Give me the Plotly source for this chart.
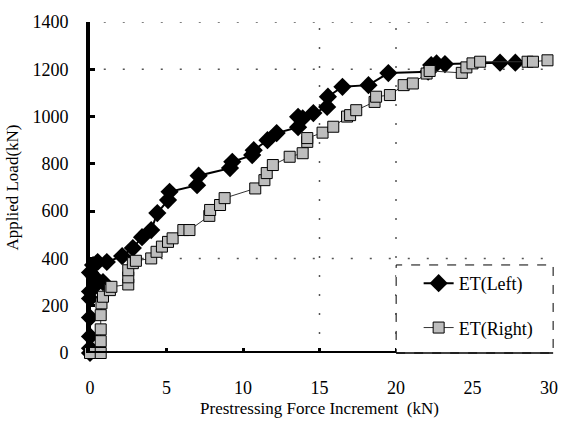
import plotly.graph_objects as go

# ET(Left): prestressing force increment (kN) vs applied load (kN)
left_x = [0, 0, 0, 0, 0, 0, 0.4, 0.85, 0.3, 0, 0.2, 0.5, 1.1, 2.1, 2.8, 3.4, 4.0, 4.4,
          5.1, 5.2, 7.0, 7.1, 9.15, 9.3, 10.6, 10.7, 11.6, 12.2, 13.6, 13.6, 13.9,
          14.6, 15.5, 15.55, 16.5, 18.2, 19.5, 22.1, 22.3, 22.65, 23.2, 26.8, 27.8]
left_y = [0, 20, 70, 150, 230, 260, 290, 300, 320, 340, 372, 385, 385, 410, 444, 490,
          520, 592, 647, 682, 710, 750, 782, 809, 837, 858, 900, 930, 955, 999, 993,
          1015, 1041, 1084, 1126, 1133, 1184, 1190, 1218, 1225, 1222, 1228, 1228]

# ET(Right)
right_x = [0, 0.7, 0.7, 0.7, 0.7, 0.75, 0.85, 1.3, 1.4, 2.5, 2.5, 2.5, 2.8, 3.0, 4.0,
           4.35, 4.7, 5.1, 5.4, 6.1, 6.5, 7.8, 7.85, 8.5, 8.8, 10.8, 11.4, 11.55,
           11.95, 13.05, 13.9, 14.2, 14.2, 15.2, 15.9, 16.8, 17.0, 17.4, 18.6, 18.7,
           19.6, 20.5, 21.1, 22.0, 22.2, 24.3, 24.6, 25.0, 25.5, 28.6, 28.95, 29.9]
right_y = [0, 0, 50, 100, 160, 210, 238, 266, 280, 290, 320, 350, 380, 390, 400,
           428, 450, 470, 485, 520, 520, 580, 605, 626, 655, 696, 731, 761,
           795, 830, 845, 893, 909, 932, 957, 1000, 1006, 1027, 1062, 1084,
           1091, 1133, 1140, 1182, 1193, 1185, 1208, 1225, 1232, 1232, 1232, 1238]

x_ticks = [0, 5, 10, 15, 20, 25, 30]
y_ticks = [0, 200, 400, 600, 800, 1000, 1200, 1400]
grid_y = [400, 1200, 1400]
grid_x = [15, 20]

FONT = "Liberation Serif"

fig = go.Figure()
fig.add_trace(go.Scatter(
    x=left_x, y=left_y, mode="lines+markers", name="ET(Left)",
    legendgroup="left",
    line=dict(color="black", width=2),
    marker=dict(symbol="diamond", size=14, color="black"),
    cliponaxis=False,
))
fig.add_trace(go.Scatter(
    x=right_x, y=right_y, mode="lines+markers", name="ET(Right)",
    legendgroup="right",
    line=dict(color="#333333", width=1),
    marker=dict(symbol="square", size=11, color="#bdbdbd",
                line=dict(color="black", width=1)),
    cliponaxis=False,
))

shapes = []
dots = dict(color="#555", width=1.5, dash="2px,17px")
for gy in grid_y:
    shapes.append(dict(type="line", xref="paper", yref="y", x0=0.03, x1=1, y0=gy, y1=gy,
                       line=dots, layer="below"))
for gx in grid_x:
    shapes.append(dict(type="line", xref="x", yref="paper", x0=gx, x1=gx, y0=0, y1=1,
                       line=dots, layer="below"))
# heavy baseline along the x axis
shapes.append(dict(type="line", xref="paper", yref="y", x0=-0.005, x1=0.667, y0=0, y1=0,
                   line=dict(color="black", width=4), layer="above"))
# legend frame
shapes.append(dict(type="rect", xref="paper", yref="paper", x0=0.667, x1=1.009,
                   y0=0.0, y1=0.266, fillcolor="white",
                   line=dict(color="black", width=1, dash="dash"), layer="above"))
shapes.append(dict(type="line", xref="paper", yref="paper", x0=0.667, x1=1.009,
                   y0=0.0, y1=0.0, line=dict(color="black", width=1.5), layer="above"))

fig.update_layout(
    width=563, height=434,
    margin=dict(l=90, r=14, t=22, b=81, autoexpand=False),
    paper_bgcolor="white", plot_bgcolor="white",
    font=dict(family=FONT, color="black", size=17),
    shapes=shapes,
    showlegend=True,
    legend=dict(x=0.716, y=0.266, xanchor="left", yanchor="top",
                bgcolor="rgba(0,0,0,0)", borderwidth=0,
                font=dict(family=FONT, size=18), tracegroupgap=18),
    xaxis=dict(
        range=[0, 30], tickvals=x_ticks, ticks="inside", ticklen=5, tickwidth=3,
        tickcolor="black", showgrid=False, zeroline=False, showline=False,
        automargin=False,
        ticklabelstandoff=22, tickfont=dict(size=18),
        title=dict(text="Prestressing Force Increment  (kN)", font=dict(size=17),
                   standoff=5),
    ),
    yaxis=dict(
        range=[0, 1400], tickvals=y_ticks, ticks="inside", ticklen=5, tickwidth=3,
        tickcolor="black", showgrid=False, zeroline=False,
        showline=True, linewidth=4, linecolor="black", automargin=False,
        ticklabelstandoff=14, tickfont=dict(size=18),
        title=dict(text="Applied Load(kN)", font=dict(size=17), standoff=10),
    ),
)

fig.write_html("out.html")
